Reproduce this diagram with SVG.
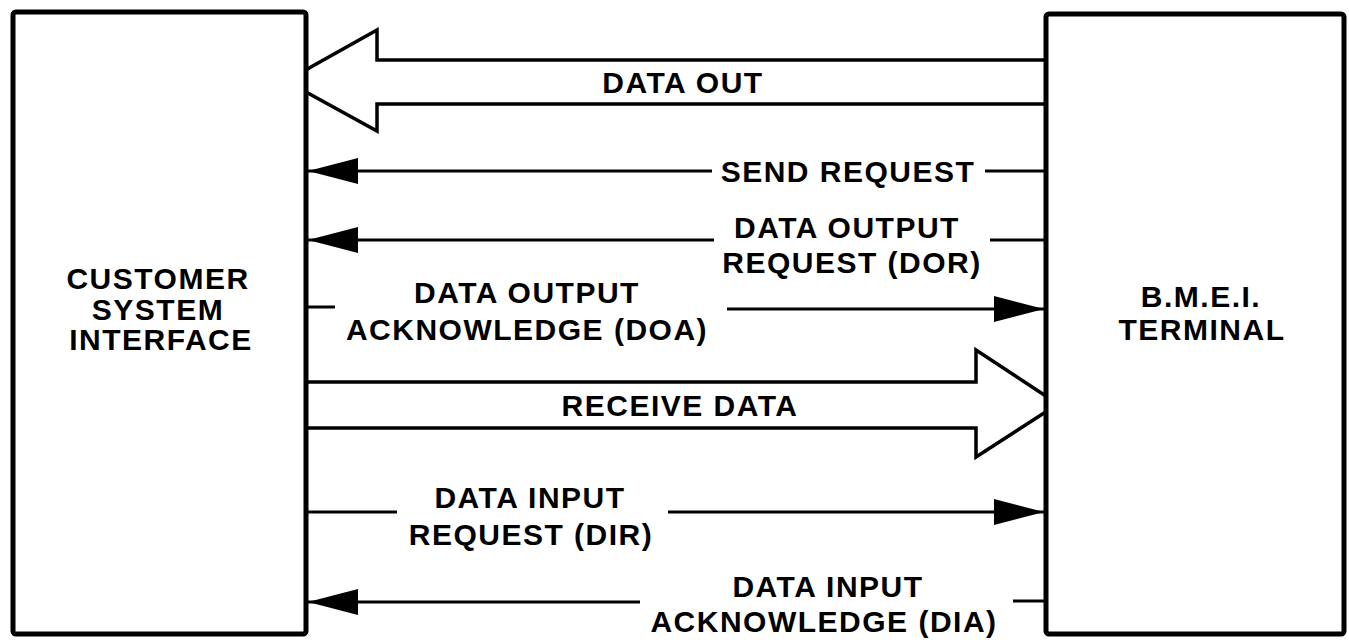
<svg xmlns="http://www.w3.org/2000/svg" width="1349" height="644" viewBox="0 0 1349 644">
<style>
.box{fill:#fff;stroke:#000;stroke-width:5;stroke-linejoin:round}
.ln{stroke:#000;stroke-width:3;fill:none}
.big{stroke:#000;stroke-width:3.5;fill:none;stroke-linejoin:miter}
text{font-family:"Liberation Sans",Arial,sans-serif;font-weight:bold;font-size:30px;fill:#000;text-anchor:middle;letter-spacing:1.5px}
</style>
<defs>
<marker id="ah" viewBox="0 0 50 26" refX="50" refY="13" markerWidth="50" markerHeight="26" markerUnits="userSpaceOnUse" orient="auto">
<path d="M0,0 L50,13 L0,26 Z" fill="#000"/>
</marker>
</defs>
<g id="connectors">
<!-- DATA OUT big arrow -->
<polyline class="big" points="1046,60 377,60 377,30 286,81 377,131 377,104 1046,104"/>
<text x="683" y="93">DATA OUT</text>
<!-- SEND REQUEST -->
<line class="ln" x1="712" y1="171" x2="308" y2="171" marker-end="url(#ah)"/>
<line class="ln" x1="985" y1="171" x2="1046" y2="171"/>
<text x="848" y="182">SEND REQUEST</text>
<!-- DOR -->
<line class="ln" x1="714" y1="240" x2="308" y2="240" marker-end="url(#ah)"/>
<line class="ln" x1="990" y1="240" x2="1046" y2="240"/>
<text x="847" y="238">DATA OUTPUT</text>
<text x="852" y="273">REQUEST (DOR)</text>
<!-- DOA -->
<line class="ln" x1="306" y1="307" x2="335" y2="307"/>
<line class="ln" x1="727" y1="309" x2="1044" y2="309" marker-end="url(#ah)"/>
<text x="527" y="303">DATA OUTPUT</text>
<text x="527" y="340">ACKNOWLEDGE (DOA)</text>
<!-- RECEIVE DATA big arrow -->
<polyline class="big" points="306,382 976,382 976,350 1058,404 976,457 976,428 306,428"/>
<text x="680" y="416">RECEIVE DATA</text>
<!-- DIR -->
<line class="ln" x1="306" y1="512" x2="397" y2="512"/>
<line class="ln" x1="668" y1="512" x2="1044" y2="512" marker-end="url(#ah)"/>
<text x="530" y="508">DATA INPUT</text>
<text x="531" y="545">REQUEST (DIR)</text>
<!-- DIA -->
<line class="ln" x1="640" y1="602" x2="308" y2="602" marker-end="url(#ah)"/>
<line class="ln" x1="1013" y1="601" x2="1046" y2="601"/>
<text x="828" y="597">DATA INPUT</text>
<text x="824" y="632">ACKNOWLEDGE (DIA)</text>
</g>
<g id="customer-system-interface">
<rect class="box" x="13" y="12" width="293" height="622" rx="3"/>
<text x="158" y="289">CUSTOMER</text>
<text x="158" y="320">SYSTEM</text>
<text x="161" y="350">INTERFACE</text>
</g>
<g id="bmei-terminal">
<rect class="box" x="1046" y="14" width="298" height="620" rx="3"/>
<text x="1201" y="307">B.M.E.I.</text>
<text x="1202" y="340">TERMINAL</text>
</g>
</svg>
